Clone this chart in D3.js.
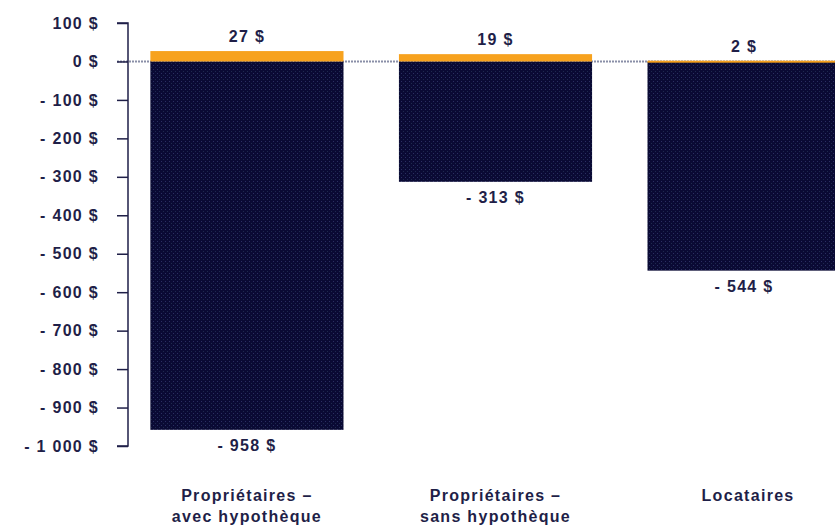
<!DOCTYPE html>
<html>
<head>
<meta charset="utf-8">
<script src="https://cdn.jsdelivr.net/npm/d3@7"></script>
<style>
  body { margin: 0; background: #fff; }
  text { font-family: "Liberation Sans", Arial, sans-serif; font-weight: bold; fill: #1f1f48; letter-spacing: 1.3px; }
</style>
</head>
<body>
<div id="chart"></div>
<script>
// data
var categories = [["Propriétaires –", "avec hypothèque"], ["Propriétaires –", "sans hypothèque"], ["Locataires"]];
var gains = [27, 19, 2];
var losses = [-958, -313, -544];
var yTicks = [100, 0, -100, -200, -300, -400, -500, -600, -700, -800, -900, -1000];

var width = 835, height = 528;

var svg = d3.select("#chart")
    .append("svg")
    .attr("width", width)
    .attr("height", height);

// dotted navy fill, like the original print
var defs = svg.append("defs");
var pat = defs.append("pattern")
    .attr("id", "navy")
    .attr("width", 4).attr("height", 4)
    .attr("patternUnits", "userSpaceOnUse");
pat.append("rect").attr("width", 4).attr("height", 4).attr("fill", "#0a0a34");
pat.append("rect").attr("x", 1).attr("y", 1).attr("width", 1).attr("height", 1).attr("fill", "#2b2f62");
pat.append("rect").attr("x", 3).attr("y", 3).attr("width", 1).attr("height", 1).attr("fill", "#1e2a4e");

var keys = categories.map(function (d, i) { return "c" + i; });

// x scale
var x = d3.scaleBand()
    .domain(keys)
    .range([128, 863])
    .paddingInner(0.223)
    .paddingOuter(0.09);

// y scale
var y = d3.scaleLinear()
    .domain([-1000, 100])
    .range([446, 23]);

// zero line (dotted grey)
svg.append("line")
    .attr("x1", 117).attr("x2", width)
    .attr("y1", y(0)).attr("y2", y(0))
    .attr("stroke", "#8a8fa8")
    .attr("stroke-width", 2)
    .attr("stroke-dasharray", "2,1");

// negative bars
svg.append("g").selectAll("rect")
    .data(losses)
    .enter()
    .append("rect")
    .attr("x", function (d, i) { return x(keys[i]); })
    .attr("y", y(0))
    .attr("width", x.bandwidth())
    .attr("height", function (d) { return y(d) - y(0); })
    .attr("fill", "url(#navy)");

// positive bars
svg.append("g").selectAll("rect")
    .data(gains)
    .enter()
    .append("rect")
    .attr("x", function (d, i) { return x(keys[i]); })
    .attr("y", function (d) { return y(d); })
    .attr("width", x.bandwidth())
    .attr("height", function (d) { return Math.max(2, y(0) - y(d)); })
    .attr("fill", "#f7a21e");

// y axis
var yAxis = svg.append("g")
    .attr("transform", "translate(128,0)")
    .call(d3.axisLeft(y)
        .tickValues(yTicks)
        .tickSize(11)
        .tickPadding(18)
        .tickFormat(function (d) {
            var s = d3.format(",")(Math.abs(d)).replace(",", " ");
            return (d < 0 ? "- " : "") + s + " $";
        }));
yAxis.select(".domain").attr("stroke", "#1f1f48").attr("stroke-width", 1.5)
    .attr("d", "M-11," + y(100) + "H0V" + y(-1000) + "H-11");
yAxis.selectAll(".tick line").attr("stroke", "#1f1f48").attr("stroke-width", 1.5);
yAxis.selectAll(".tick text")
    .attr("font-size", 16)
    .attr("font-family", "Liberation Sans, Arial, sans-serif")
    .attr("fill", "#1f1f48");

// value labels
svg.append("g").selectAll("text")
    .data(gains)
    .enter()
    .append("text")
    .attr("x", function (d, i) { return x(keys[i]) + x.bandwidth() / 2; })
    .attr("y", function (d) { return y(d) - 9; })
    .attr("text-anchor", "middle")
    .attr("font-size", 16)
    .text(function (d) { return d + " $"; });

svg.append("g").selectAll("text")
    .data(losses)
    .enter()
    .append("text")
    .attr("x", function (d, i) { return x(keys[i]) + x.bandwidth() / 2; })
    .attr("y", function (d) { return y(d) + 21; })
    .attr("text-anchor", "middle")
    .attr("font-size", 16)
    .text(function (d) { return "- " + Math.abs(d) + " $"; });

// category labels
var cat = svg.append("g").selectAll("text")
    .data(categories)
    .enter()
    .append("text")
    .attr("x", function (d, i) { return x(keys[i]) + x.bandwidth() / 2 + (i == 2 ? 4 : 0); })
    .attr("y", 501)
    .attr("text-anchor", "middle")
    .attr("font-size", 16);
cat.selectAll("tspan")
    .data(function (d) { return d; })
    .enter()
    .append("tspan")
    .attr("x", function () { return d3.select(this.parentNode).attr("x"); })
    .attr("dy", function (d, j) { return j == 0 ? 0 : 21; })
    .text(function (d) { return d; });
</script>
</body>
</html>
